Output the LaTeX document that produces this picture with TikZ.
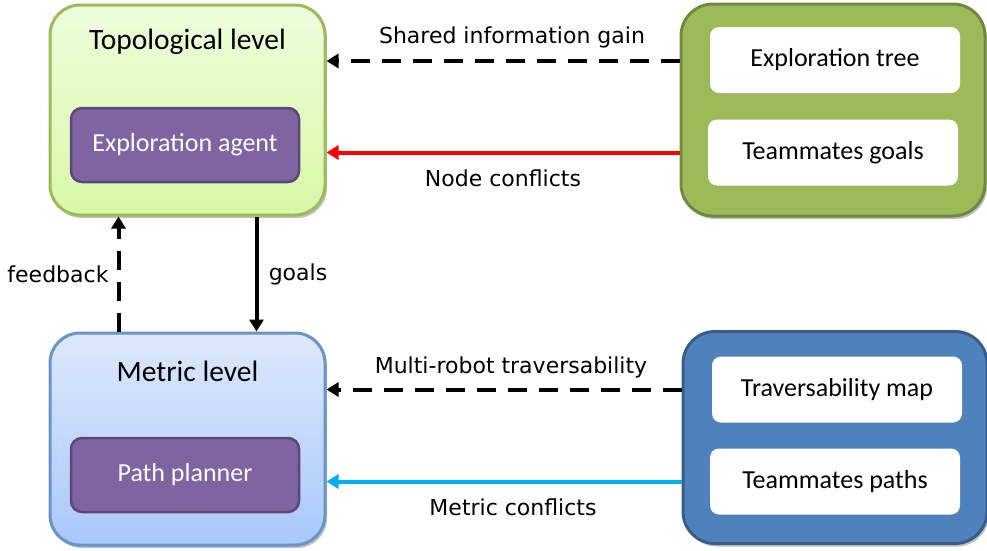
\documentclass[tikz,border=0pt]{standalone}
\usepackage{fontspec}
\setmainfont{Carlito}
\newfontfamily\lblfont{DejaVu Sans}
\usetikzlibrary{arrows.meta,shadows,calc}
\definecolor{gfill}{HTML}{9BBB59}
\definecolor{gborder}{HTML}{71893F}
\definecolor{bfill}{HTML}{4F81BD}
\definecolor{bborder}{HTML}{385D8A}
\definecolor{pfill}{HTML}{8064A2}
\definecolor{pborder}{HTML}{5C4776}
\definecolor{ltgtop}{HTML}{EEFDDC}
\definecolor{ltgbot}{HTML}{D8F8A6}
\definecolor{ltbtop}{HTML}{DDE8FB}
\definecolor{ltbbot}{HTML}{A8C8FB}
\definecolor{cyanline}{HTML}{00B0F0}
\tikzset{
  boxshadow/.style={drop shadow={shadow xshift=2pt,shadow yshift=-3pt,opacity=0.25,fill=black}},
  levelbox/.style={draw, line width=3pt, rounded corners=30pt, boxshadow, inner sep=0pt},
  topobox/.style={levelbox, draw=gfill, top color=ltgtop, bottom color=ltgbot, minimum width=275pt, minimum height=210pt},
  metricbox/.style={levelbox, draw=bfill!85!white, top color=ltbtop, bottom color=ltbbot, minimum width=275pt, minimum height=212pt},
  teambox/.style={draw, line width=3pt, rounded corners=32pt, boxshadow, inner sep=0pt, minimum width=304pt, minimum height=212pt},
  agentbox/.style={draw=pborder, fill=pfill, line width=2.5pt, rounded corners=11pt, minimum width=228pt, minimum height=74pt, text=white, font=\fontsize{26}{30}\selectfont},
  infobox/.style={fill=white, rounded corners=9pt, minimum width=250pt, minimum height=66pt, font=\fontsize{26}{30}\selectfont},
  title/.style={font=\fontsize{29.5}{34}\selectfont},
  lbl/.style={font=\lblfont\fontsize{22}{26}\selectfont},
  conn/.style={line width=4pt, -{Triangle[length=12pt,width=14pt]}},
  dashconn/.style={conn, dash pattern=on 19pt off 12pt},
}
\begin{document}
\begin{tikzpicture}[x=1pt,y=-1pt]
\useasboundingbox (0,0) rectangle (987,550);
% left level boxes
\node[topobox] (topo) at (187.5,110) {};
\node[title] (topotitle) at (187.5,42) {Topological level};
\node[agentbox] (agent) at (185,145) {Exploration agent};
\node[metricbox] (metric) at (187.5,439) {};
\node[title] (metrictitle) at (187.5,371) {Metric level};
\node[agentbox] (planner) at (185,475) {Path planner};
% right boxes
\node[teambox, draw=gborder, fill=gfill] (shared) at (833,110) {};
\node[infobox] (tree) at (835,60) {Exploration tree};
\node[infobox] (tgoals) at (833,152.5) {Teammates goals};
\node[teambox, draw=bborder, fill=bfill] (team) at (835,437.5) {};
\node[infobox] (trav) at (837,389.5) {Traversability map};
\node[infobox] (tpaths) at (835,481.5) {Teammates paths};
% horizontal connectors
\draw[dashconn] (shared.west |- 0,61) -- (topo.east |- 0,61);
\draw[conn, draw=red, fill=red] (shared.west |- tgoals) -- (topo.east |- tgoals);
\draw[dashconn] (team.west |- trav) -- (metric.east |- trav);
\draw[conn, draw=cyanline, fill=cyanline] (team.west |- tpaths) -- (metric.east |- tpaths);
% vertical connectors
\draw[dashconn] ([xshift=70pt]metric.north west) -- ([xshift=70pt]topo.south west);
\draw[conn] ([xshift=208pt]topo.south west) -- ([xshift=208pt]metric.north west);
% labels
\node[lbl] (l1) at (512,37) {Shared information gain};
\node[lbl] (l2) at (503,178) {Node conflicts};
\node[lbl] (l3) at (511,367) {Multi-robot traversability};
\node[lbl] (l4) at (513,507) {Metric conflicts};
\node[lbl] (l5) at (58,274) {feedback};
\node[lbl] (l6) at (298,274) {goals};
\end{tikzpicture}
\end{document}
